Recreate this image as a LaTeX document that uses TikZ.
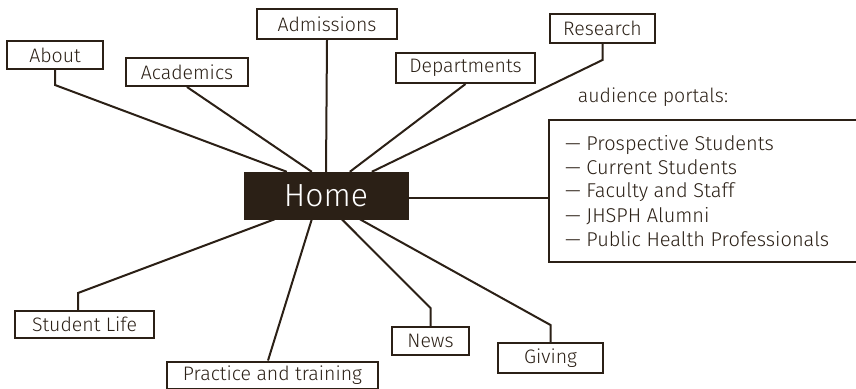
\documentclass[tikz,border=0pt]{standalone}
\usepackage{fontspec}
\setmainfont{Fira Sans}[UprightFont={* Light}]
\definecolor{ink}{HTML}{2B2016}
\begin{document}
\begin{tikzpicture}[x=1pt,y=-1pt,
  conn/.style={draw=ink,line width=2pt},
  box/.style={draw=ink,line width=2pt,fill=white,inner sep=0pt,text=ink,
    font=\fontsize{19.5}{19.5}\selectfont},
  homebox/.style={fill=ink,draw=ink,inner sep=0pt,text=white,
    font=\fontsize{32}{32}\selectfont,minimum width=164pt,minimum height=47pt},
  plain/.style={inner sep=0pt,text=ink,font=\fontsize{19.5}{19.5}\selectfont},
  item/.style={inner sep=0pt,text=ink,anchor=base west,font=\fontsize{20}{20}\selectfont}]
\useasboundingbox (0,0) rectangle (856,388);
\clip (0,0) rectangle (856,388);
% nodes
\node[homebox] (home) at (326,195.5) {Home};
\node[box,minimum width=96pt,minimum height=28pt] (about) at (55,55) {About};
\node[box,minimum width=122pt,minimum height=28pt] (academics) at (187,72) {Academics};
\node[box,minimum width=140pt,minimum height=30pt] (admissions) at (327,24) {Admissions};
\node[box,minimum width=139pt,minimum height=30pt] (departments) at (465.5,68) {Departments};
\node[box,minimum width=105pt,minimum height=29pt] (research) at (602.5,28.5) {Research};
\node[box,minimum width=139pt,minimum height=27pt] (student) at (84.5,324.5) {Student Life};
\node[box,minimum width=211pt,minimum height=27pt] (practice) at (272.5,375) {Practice and training};
\node[box,minimum width=77pt,minimum height=28pt] (news) at (430.5,341) {News};
\node[box,minimum width=105pt,minimum height=30pt] (giving) at (550.5,358) {Giving};
\node[box,minimum width=321pt,minimum height=142pt] (portals) at (709.5,191) {};
\node[plain] (aptitle) at (653,97) {audience portals:};
\node[item] (p1) at (565,150) {— Prospective Students};
\node[item] (p2) at (565,174) {— Current Students};
\node[item] (p3) at (565,197) {— Faculty and Staff};
\node[item] (p4) at (565,222) {— JHSPH Alumni};
\node[item] (p5) at (565,246) {— Public Health Professionals};
% connectors
\draw[conn] (about.south) -- ++(0,15) -- ([xshift=43pt]home.north west);
\draw[conn] (academics.south) -- ([xshift=68pt]home.north west);
\draw[conn] (admissions.south) -- (home.north);
\draw[conn] (departments.south) -- ([xshift=106pt]home.north west);
\draw[conn] (research.south) -- ++(0,16) -- ([xshift=128pt]home.north west);
\draw[conn] ([xshift=64pt]student.north west) -- ++(0,-17) -- ([xshift=31pt]home.south west);
\draw[conn] ([xshift=102pt]practice.north west) -- ([xshift=68pt]home.south west);
\draw[conn] (news.north) -- ++(0,-18) -- ([xshift=98pt]home.south west);
\draw[conn] (giving.north) -- ++(0,-17) -- ([xshift=116pt]home.south west);
\draw[conn] ([yshift=-2.5pt]home.east) -- ([yshift=-2.5pt]home.east -| portals.west);
\end{tikzpicture}
\end{document}
